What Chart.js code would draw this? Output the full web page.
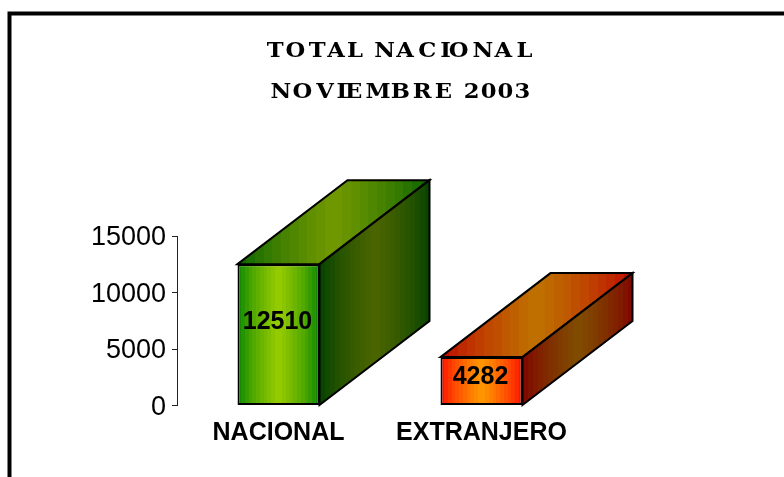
<!DOCTYPE html>
<html>
<head>
<meta charset="utf-8">
<title>Total nacional</title>
<script src="https://cdn.jsdelivr.net/npm/chart.js@4/dist/chart.umd.min.js"></script>
<style>
  html, body { margin: 0; padding: 0; background: #fff; }
  canvas { display: block; }
</style>
</head>
<body>
<canvas id="chart" width="784" height="477"></canvas>
<script>
const categories = ['NACIONAL', 'EXTRANJERO'];
const values = [12510, 4282];
const titleLines = ['TOTAL NACIONAL', 'NOVIEMBRE 2003'];
const tickValues = [0, 5000, 10000, 15000];
const edgeColors = [[0, 128, 0], [255, 0, 0]];
const centerColors = [[153, 204, 0], [255, 153, 0]];

const DEPTH_X = 110;
const DEPTH_Y = 84;
const BANDS = 22;

// Office style gradient: edge -> center -> edge, in visible steps
function bandedGradient(ctx, x0, x1, edge, center, shade) {
  const g = ctx.createLinearGradient(x0, 0, x1, 0);
  for (let i = 0; i < BANDS; i++) {
    const mid = (i + 0.5) / BANDS;
    const t = Math.pow(1 - Math.abs(mid * 2 - 1), 0.7);
    const c = edge.map((e, k) => Math.round((e + (center[k] - e) * t) * shade));
    const col = `rgb(${c[0]},${c[1]},${c[2]})`;
    g.addColorStop(i / BANDS, col);
    g.addColorStop((i + 1) / BANDS, col);
  }
  return g;
}

function face(ctx, pts, fill) {
  ctx.beginPath();
  pts.forEach((p, i) => (i ? ctx.lineTo(p[0], p[1]) : ctx.moveTo(p[0], p[1])));
  ctx.closePath();
  ctx.fillStyle = fill;
  ctx.fill();
  ctx.lineWidth = 2;
  ctx.strokeStyle = '#000';
  ctx.stroke();
}

// Frame that runs off the right and bottom of the picture
const framePlugin = {
  id: 'frame',
  beforeDraw(chart) {
    const ctx = chart.ctx;
    ctx.save();
    ctx.fillStyle = '#fff';
    ctx.fillRect(0, 0, chart.width, chart.height);
    ctx.strokeStyle = '#000';
    ctx.lineWidth = 4;
    ctx.beginPath();
    ctx.moveTo(9.5, chart.height + 4);
    ctx.lineTo(9.5, 13.5);
    ctx.lineTo(chart.width + 4, 13.5);
    ctx.stroke();
    ctx.restore();
  }
};

// Title: wide slab glyphs placed on the advances of a proportional face
const titlePlugin = {
  id: 'oddTitle',
  afterDraw(chart) {
    const ctx = chart.ctx;
    const baselines = [57, 97.5];
    ctx.save();
    ctx.fillStyle = '#000';
    ctx.textBaseline = 'alphabetic';
    titleLines.forEach((line, n) => {
      ctx.font = 'bold 30.5px "Liberation Sans"';
      const total = ctx.measureText(line).width;
      const offsets = [...line].map((_, i) => ctx.measureText(line.slice(0, i)).width);
      const start = 401 - total / 2;
      ctx.font = 'bold 21px "DejaVu Serif"';
      [...line].forEach((ch, i) => {
        ctx.save();
        ctx.translate(start + offsets[i], baselines[n]);
        ctx.scale(1.08, 1);
        ctx.fillText(ch, 0, 0);
        ctx.restore();
      });
    });
    ctx.restore();
  }
};

// Top and side faces, built from the bar elements
const boxPlugin = {
  id: 'box3d',
  beforeDatasetsDraw(chart) {
    const ctx = chart.ctx;
    ctx.save();
    chart.getDatasetMeta(0).data.forEach((bar, i) => {
      const l = bar.x - bar.width / 2;
      const r = bar.x + bar.width / 2;
      const t = bar.y;
      const b = bar.base;
      face(ctx, [[l, t], [l + DEPTH_X, t - DEPTH_Y], [r + DEPTH_X, t - DEPTH_Y], [r, t]],
        bandedGradient(ctx, l, r + DEPTH_X, edgeColors[i], centerColors[i], 0.75));
      face(ctx, [[r, t], [r + DEPTH_X, t - DEPTH_Y], [r + DEPTH_X, b - DEPTH_Y], [r, b]],
        bandedGradient(ctx, r, r + DEPTH_X, edgeColors[i], centerColors[i], 0.5));
    });
    ctx.restore();
  },
  afterDatasetsDraw(chart) {
    const ctx = chart.ctx;
    ctx.save();
    ctx.font = 'bold 25px "Liberation Sans"';
    ctx.fillStyle = '#000';
    ctx.textAlign = 'center';
    ctx.textBaseline = 'middle';
    chart.getDatasetMeta(0).data.forEach((bar, i) => {
      ctx.fillText(String(values[i]), bar.x - 1, bar.base - (bar.base - bar.y) * 0.59 + 0.5);
    });
    ctx.restore();
  }
};

new Chart(document.getElementById('chart'), {
  type: 'bar',
  data: {
    labels: categories,
    datasets: [{
      data: values,
      barPercentage: 1,
      categoryPercentage: 0.404,
      borderColor: '#000',
      borderWidth: 2,
      borderSkipped: false,
      backgroundColor(c) {
        const xs = c.chart.scales.x;
        if (!xs || c.dataIndex === undefined) return '#000';
        const half = xs.width / categories.length * 0.404 / 2;
        const x = xs.getPixelForValue(c.dataIndex);
        if (!Number.isFinite(x) || !Number.isFinite(half)) return '#000';  // not laid out yet
        return bandedGradient(c.chart.ctx, x - half, x + half,
          edgeColors[c.dataIndex], centerColors[c.dataIndex], 1);
      }
    }]
  },
  options: {
    responsive: false,
    animation: false,
    layout: { padding: { top: 236, right: 201 } },
    plugins: { legend: { display: false }, title: { display: false }, tooltip: { enabled: false } },
    scales: {
      x: {
        afterFit(s) { s.height = 71.5; },
        grid: { display: false },
        border: { display: false },
        ticks: {
          color: '#000',
          padding: 5,
          maxRotation: 0,
          font: { family: '"Liberation Sans"', size: 25, weight: 'bold' }
        }
      },
      y: {
        min: 0,
        max: 15000,
        afterFit(s) { s.width = 177; },
        afterBuildTicks(s) { s.ticks = tickValues.map(v => ({ value: v })); },
        grid: { drawOnChartArea: false, tickLength: 5, tickColor: '#222' },
        border: { display: true, color: '#222', width: 1 },
        ticks: {
          color: '#000',
          padding: 6,
          labelOffset: 2,
          callback: v => String(v),
          font: { family: '"Liberation Sans"', size: 27 }
        }
      }
    }
  },
  plugins: [framePlugin, boxPlugin, titlePlugin]
});
</script>
</body>
</html>
